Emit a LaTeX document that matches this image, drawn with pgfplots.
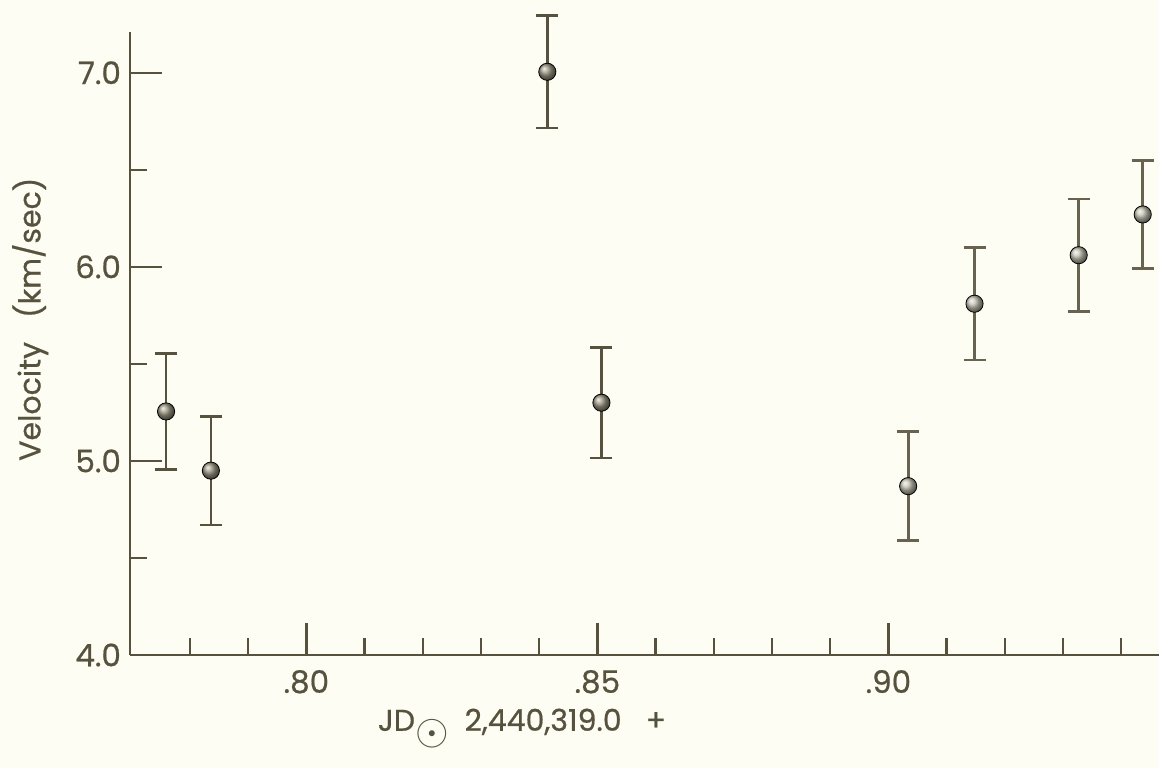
\documentclass[border=0pt]{standalone}
\usepackage{fontspec}
\setmainfont{Poppins}[FakeBold=0.6,AutoFakeBold=0.6]
\usepackage{graphicx}
\usepackage{pgfplots}
\pgfplotsset{compat=1.18}
\definecolor{ink}{HTML}{57523E}
\definecolor{bg}{HTML}{FDFDF4}
\definecolor{ptdark}{HTML}{9A9682}
\definecolor{ptlight}{HTML}{C4C1B1}
\begin{document}
\begin{tikzpicture}
\useasboundingbox[fill=bg] (-65pt,-56.5pt) rectangle (514.5pt,327.5pt);
\begin{axis}[
  at={(0,0)}, anchor=south west,
  scale only axis, width=514.5pt, height=311.5pt,
  xmin=0.7697, xmax=0.9465, ymin=4, ymax=7.21,
  clip=false,
  axis x line=bottom, axis y line=left,
  axis line style={-, ink, line width=1.2pt},
  tick style={ink, line width=1.2pt},
  xtick={0.80,0.85,0.90}, xticklabels={.80,.85,.90},
  minor xtick={0.78,0.79,0.81,0.82,0.83,0.84,0.86,0.87,0.88,0.89,0.91,0.92,0.93,0.94},
  ytick={4,5,6,7}, yticklabels={4.0,5.0,6.0,7.0},
  minor ytick={4.5,5.5,6.5},
  tick align=inside,
  major tick length=16pt, minor tick length=8.5pt,
  /pgf/number format/assume math mode=true,
  ticklabel style={font=\fontsize{15.5}{18}\selectfont\bfseries, text=ink},
  xticklabel style={yshift=-4pt},
  yticklabel style={xshift=-1pt},
  xlabel={JD\raisebox{-7pt}{\scalebox{1.5}{$\odot$}}\ \ 2,440,319.0\ \ \ +},
  ylabel={Velocity\ \ \ (km/sec)},
  label style={font=\fontsize{15}{18}\selectfont\bfseries, text=ink},
  xlabel style={at={(axis description cs:0.381,-0.118)}, anchor=center},
  ylabel style={at={(axis description cs:-0.097,0.539)}, anchor=center},
]
\addplot[only marks, mark=ball, mark size=4.3pt, mark options={ball color=ptdark},
  error bars/.cd, y dir=both, y explicit,
  error bar style={ink, line width=1.4pt},
  error mark options={rotate=90, mark size=5.5pt, ink, line width=1.4pt}]
  coordinates {
  (0.7759,5.255) +- (0,0.30)
  (0.7836,4.950) +- (0,0.28)
  (0.8414,7.005) +- (0,0.29)
  (0.8507,5.300) +- (0,0.285)
};
\addplot[only marks, mark=ball, mark size=4.3pt, mark options={ball color=ptlight},
  error bars/.cd, y dir=both, y explicit,
  error bar style={ink!90, line width=1.4pt},
  error mark options={rotate=90, mark size=5.5pt, ink!90, line width=1.4pt}]
  coordinates {
  (0.9034,4.870) +- (0,0.28)
  (0.9148,5.810) +- (0,0.29)
  (0.9327,6.060) +- (0,0.29)
  (0.9437,6.270) +- (0,0.28)
};
\end{axis}
\end{tikzpicture}
\end{document}
